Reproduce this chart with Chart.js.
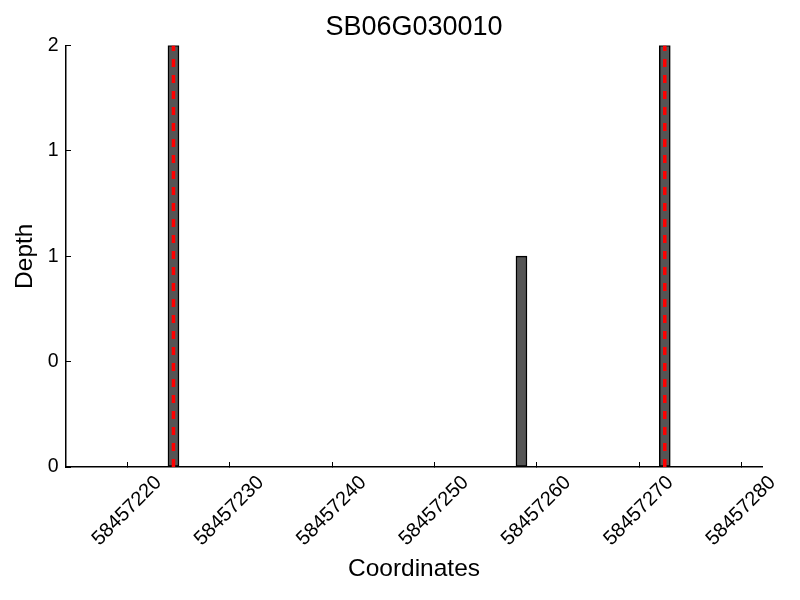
<!DOCTYPE html>
<html>
<head>
<meta charset="utf-8">
<script src="https://cdn.jsdelivr.net/npm/chart.js@4"></script>
<style>
  html, body { margin: 0; padding: 0; background: #fff; }
  #wrap { width: 800px; height: 600px; }
</style>
</head>
<body>
<div id="wrap"><canvas id="depth-chart" width="800" height="600"></canvas></div>
<script>
var TITLE = 'SB06G030010';

// one bar per covered base: start coordinate and read depth
var positions = [58457224, 58457258, 58457272];
var depths = [2, 1, 2];

// red dashed markers
var markers = [58457224, 58457272];

var xTicks = [58457220, 58457230, 58457240, 58457250, 58457260, 58457270, 58457280];
var yTicks = [0, 0.5, 1, 1.5, 2];
var xRange = [58457214, 58457282];

var FONT = '"Liberation Sans", Arial, Helvetica, sans-serif';

var barData = positions.map(function (p, i) { return { x: p + 0.5, y: depths[i] }; });

var markerSets = markers.map(function (m) {
  return {
    type: 'line',
    data: [{ x: m + 0.5, y: yTicks[0] }, { x: m + 0.5, y: yTicks[yTicks.length - 1] }],
    borderColor: '#ff0000',
    borderWidth: 3.5,
    borderDash: [8, 8],
    pointRadius: 0,
    fill: false,
    order: 0,
  };
});

var ctx = document.getElementById('depth-chart').getContext('2d');
new Chart(ctx, {
  type: 'bar',
  data: {
    datasets: [{
      data: barData,
      backgroundColor: '#555555',
      borderColor: '#000000',
      borderWidth: 1.5,
      borderSkipped: false,
      barThickness: 11,
      order: 1,
    }].concat(markerSets),
  },
  options: {
    responsive: false,
    animation: false,
    devicePixelRatio: 1,
    layout: { padding: { left: 0, right: 38, top: 0, bottom: 0 } },
    scales: {
      x: {
        type: 'linear',
        min: xRange[0],
        max: xRange[1],
        offset: false,
        afterBuildTicks: function (scale) {
          scale.ticks = xTicks.map(function (v) { return { value: v }; });
        },
        afterFit: function (scale) {
          scale.height = 133;
          scale.paddingLeft = 0;
          scale.paddingRight = 0;
        },
        grid: { display: true, drawOnChartArea: false, offset: false, tickLength: -5, color: '#000', lineWidth: 1 },
        border: { display: true, color: '#000', width: 1.5 },
        ticks: {
          autoSkip: false,
          minRotation: 45,
          maxRotation: 45,
          padding: 9,
          labelOffset: 31,
          color: '#000',
          font: { family: FONT, size: 20 },
          callback: function (v) { return String(v); },
        },
        title: {
          display: true,
          text: 'Coordinates',
          color: '#000',
          font: { family: FONT, size: 24.5 },
          padding: { top: 0, bottom: 16 },
        },
      },
      y: {
        min: yTicks[0],
        max: yTicks[yTicks.length - 1],
        afterBuildTicks: function (scale) {
          scale.ticks = yTicks.map(function (v) { return { value: v }; });
        },
        afterFit: function (scale) {
          scale.width = 66;
        },
        grid: { display: true, drawOnChartArea: false, tickLength: -5, color: '#000', lineWidth: 1 },
        border: { display: true, color: '#000', width: 1.5 },
        ticks: {
          padding: 12.5,
          color: '#000',
          font: { family: FONT, size: 19.5 },
          callback: function (v) { return String(Math.trunc(v)); },
        },
        title: {
          display: true,
          text: 'Depth',
          color: '#000',
          font: { family: FONT, size: 24.5 },
          padding: { top: 11, bottom: 0 },
        },
      },
    },
    plugins: {
      legend: { display: false },
      tooltip: { enabled: false },
      title: {
        display: true,
        fullSize: false,
        text: TITLE,
        color: '#000',
        font: { family: FONT, size: 27, weight: 'normal' },
        padding: { top: 11, bottom: 2 },
      },
    },
  },
});
</script>
</body>
</html>
